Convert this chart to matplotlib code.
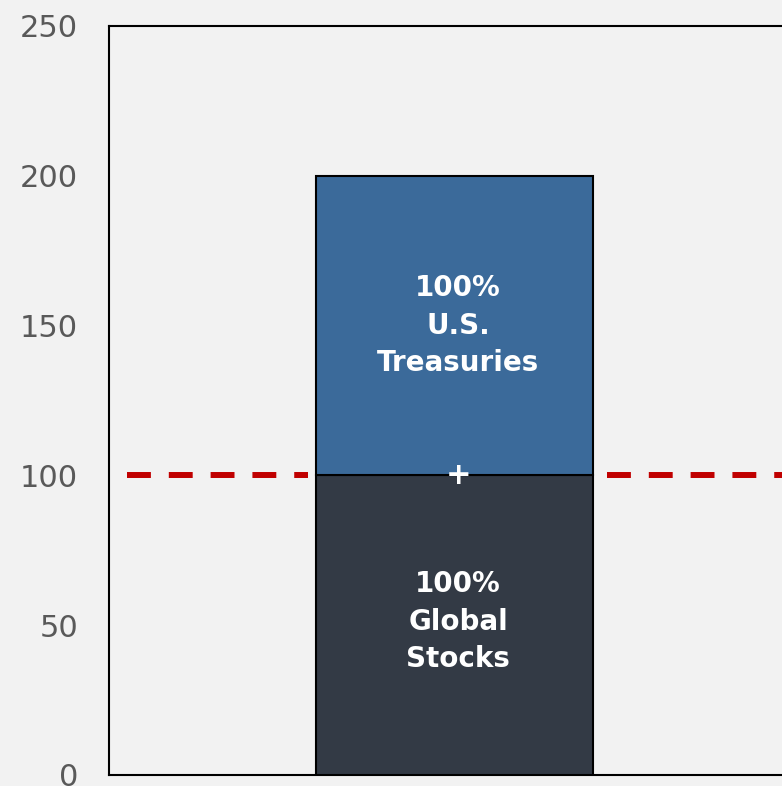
import numpy as np
import matplotlib.pyplot as plt

# stacked bar: portfolio exposure in % of capital
segments = ["100%\nGlobal\nStocks", "100%\nU.S.\nTreasuries"]
values = [100, 100]
colors = ["#333a45", "#3b6a9a"]
ref_level = 100
yticks = [0, 50, 100, 150, 200, 250]

plt.rcParams['font.family'] = ['DejaVu Sans']

fig = plt.figure(figsize=(7.82, 7.86), dpi=100)
fig.patch.set_facecolor("#f2f2f2")
ax = fig.add_axes([0.139, 0.014, 0.885, 0.953])
ax.set_facecolor("#f2f2f2")

bottom = 0
for lab, v, c in zip(segments, values, colors):
    ax.bar(0, v, width=0.8, bottom=bottom, color=c, edgecolor="black",
           linewidth=1.5, zorder=3)
    # small nudge so the label block sits like the original
    ax.text(0.01, bottom + v / 2 + (1.2 if bottom == 0 else 0), lab,
            ha="center", va="center", color="white",
            fontsize=20, fontweight="bold", linespacing=1.45, zorder=4)
    bottom += v

ax.text(0.01, ref_level, "+", ha="center", va="center", color="white",
        fontsize=22, fontweight="bold", zorder=5)

# dashed reference line, broken around the bar
ax.hlines(ref_level, -0.948, -0.425, color="#c00000", linewidth=4.3,
          linestyles=(0, (4, 3)), zorder=2)
ax.hlines(ref_level, 0.439, 1.0, color="#c00000", linewidth=4.3,
          linestyles=(0, (4, 3)), zorder=2)

ax.set_xlim(-1, 1)
ax.set_ylim(0, 250)
ax.set_xticks([])
ax.set_yticks(yticks)
ax.tick_params(axis="y", length=0, pad=22, labelsize=22, labelcolor="#595959")
for s in ax.spines.values():
    s.set_linewidth(1.5)
    s.set_color("black")

fig.savefig("out.png", dpi=100, facecolor=fig.get_facecolor())
